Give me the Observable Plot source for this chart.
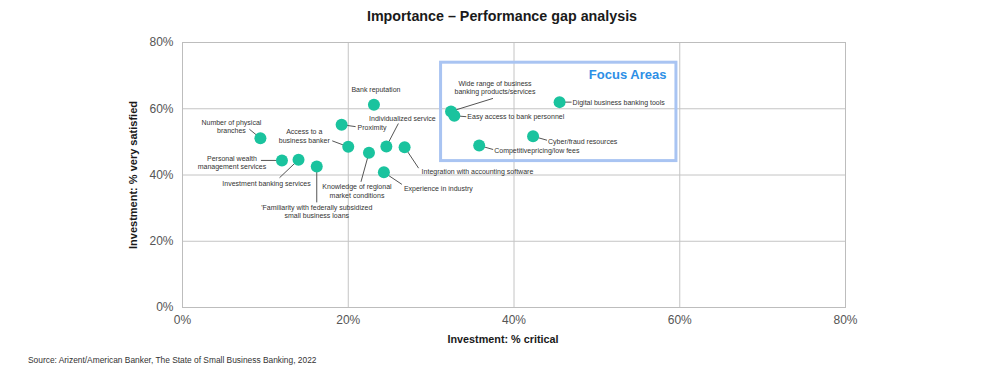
<!DOCTYPE html>
<html><head><meta charset="utf-8">
<script src="https://cdn.jsdelivr.net/npm/d3@7"></script>
<script src="https://cdn.jsdelivr.net/npm/@observablehq/plot@0.6"></script>
<style>
body{margin:0;background:#fff;font-family:"Liberation Sans",Arial,sans-serif;}
#title{height:32px;line-height:32px;text-align:center;font-weight:bold;font-size:14.3px;color:#1a1a1a;width:1000px;padding-left:4px;box-sizing:border-box}
#src{font-size:8.4px;color:#333;padding-left:28px;height:20px;line-height:20px}
</style></head><body>
<div id="title">Importance – Performance gap analysis</div>
<div id="chart"></div>
<div id="src">Source: Arizent/American Banker, The State of Small Business Banking, 2022</div>
<script>
// ---- data ----
const attributes = [
  "Bank reputation",
  "Proximity",
  "Number of physical\nbranches",
  "Access to a\nbusiness banker",
  "Individualized service",
  "Integration with accounting software",
  "Knowledge of regional\nmarket conditions",
  "Experience in industry",
  "Personal wealth\nmanagement services",
  "Investment banking services",
  "'Familiarity with federally subsidized\nsmall business loans",
  "Wide range of business\nbanking products/services",
  "Easy access to bank personnel",
  "Digital business banking tools",
  "Cyber/fraud resources",
  "Competitivepricing/low fees"
];
const pctCritical =  [23.1, 19.2, 9.4, 20.0, 24.6, 26.8, 22.5, 24.3, 12.0, 14.0, 16.2, 32.4, 32.8, 45.5, 42.3, 35.8];
const pctSatisfied = [61.2, 55.2, 51.1, 48.5, 48.6, 48.4, 46.7, 40.8, 44.4, 44.6, 42.6, 59.2, 57.9, 62.0, 51.7, 48.9];
const tickValues = [0, 20, 40, 60, 80];
const focusArea = {x1: 31.2, x2: 59.6, y1: 73.9, y2: 44.2, label: "Focus Areas"};

// ---- label layout (pixel offsets from each point) ----
const labelLayout = [
  {dx: 2,   dy: -15, anchor: "middle", ex: null, ey: null},
  {dx: 16,  dy: 3,   anchor: "start",  ex: 14,  ey: 2},
  {dx: -29, dy: -12, anchor: "middle", ex: -11, ey: -9},
  {dx: -44, dy: -11, anchor: "middle", ex: -16, ey: -6},
  {dx: 16,  dy: -28, anchor: "middle", ex: 12,  ey: -23},
  {dx: 17,  dy: 24,  anchor: "start",  ex: 14,  ey: 21},
  {dx: -12, dy: 38,  anchor: "middle", ex: -8,  ey: 29},
  {dx: 20,  dy: 16,  anchor: "start",  ex: 18,  ey: 12},
  {dx: -50, dy: 2,   anchor: "middle", ex: -21, ey: 0},
  {dx: -32, dy: 24,  anchor: "middle", ex: -19, ey: 18},
  {dx: 0,   dy: 45,  anchor: "middle", ex: 0,   ey: 36},
  {dx: 44,  dy: -24, anchor: "middle", ex: 42,  ey: -13},
  {dx: 13,  dy: 1,   anchor: "start",  ex: 12,  ey: 1},
  {dx: 13,  dy: 0,   anchor: "start",  ex: 12,  ey: 0},
  {dx: 15,  dy: 5,   anchor: "start",  ex: 14,  ey: 4},
  {dx: 15,  dy: 5,   anchor: "start",  ex: 14,  ey: 4}
];

const W = 1000, H = 318, ML = 182, MR = 155, MT = 10, MB = 43;
const kx = 80 / (W - ML - MR), ky = 80 / (H - MT - MB);

const rows = attributes.map((name, i) => ({name, x: pctCritical[i], y: pctSatisfied[i], ...labelLayout[i]}));
const leaders = rows.filter(d => d.ex !== null);
const tx = d => d.x + d.dx * kx, ty = d => d.y - d.dy * ky;
const textOpts = (anchor) => ({x: tx, y: ty, text: "name", textAnchor: anchor, lineAnchor: "middle", fontSize: 7, fill: "#333", lineHeight: 1.2});

const chart = Plot.plot({
  width: W, height: H,
  marginLeft: ML, marginRight: MR, marginTop: MT, marginBottom: MB,
  style: {fontFamily: "'Liberation Sans', Arial, sans-serif", background: "#fff", overflow: "visible"},
  x: {domain: [0, 80]},
  y: {domain: [0, 80]},
  marks: [
    Plot.gridX([20, 40, 60], {stroke: "#c4c4c4", strokeOpacity: 1}),
    Plot.gridY([20, 40, 60], {stroke: "#c4c4c4", strokeOpacity: 1}),
    Plot.frame({stroke: "#bdbdbd"}),
    Plot.axisX(tickValues, {tickSize: 0, tickPadding: 8, fontSize: 12, fill: "#555", tickFormat: d => d + "%", label: null}),
    Plot.axisY(tickValues, {tickSize: 0, tickPadding: 9, fontSize: 12, fill: "#555", tickFormat: d => d + "%", label: null}),
    Plot.text(["Investment: % critical"], {frameAnchor: "bottom", dx: -11, dy: 35, textAnchor: "middle", fontSize: 10.8, fontWeight: "bold", fill: "#1a1a1a"}),
    Plot.text(["Investment: % very satisfied"], {frameAnchor: "left", dx: -49, rotate: -90, textAnchor: "middle", fontSize: 11, fontWeight: "bold", fill: "#1a1a1a"}),
    Plot.rect([focusArea], {x1: "x1", x2: "x2", y1: "y1", y2: "y2", fill: "none", stroke: "#a9c4f2", strokeWidth: 3}),
    Plot.text([focusArea], {x: "x2", y: "y1", text: "label", dx: -10, dy: 12, textAnchor: "end", fontSize: 13, fontWeight: "bold", fill: "#2d8fe6"}),
    Plot.link(leaders, {x1: "x", y1: "y", x2: d => d.x + d.ex * kx, y2: d => d.y - d.ey * ky, stroke: "#555", strokeWidth: 1}),
    Plot.dot(rows, {x: "x", y: "y", r: 6, fill: "#1ac39e"}),
    Plot.text(rows.filter(d => d.anchor === "start"), textOpts("start")),
    Plot.text(rows.filter(d => d.anchor === "middle"), textOpts("middle")),
    Plot.text(rows.filter(d => d.anchor === "end"), textOpts("end"))
  ]
});
document.getElementById("chart").appendChild(chart);
</script>
</body></html>
